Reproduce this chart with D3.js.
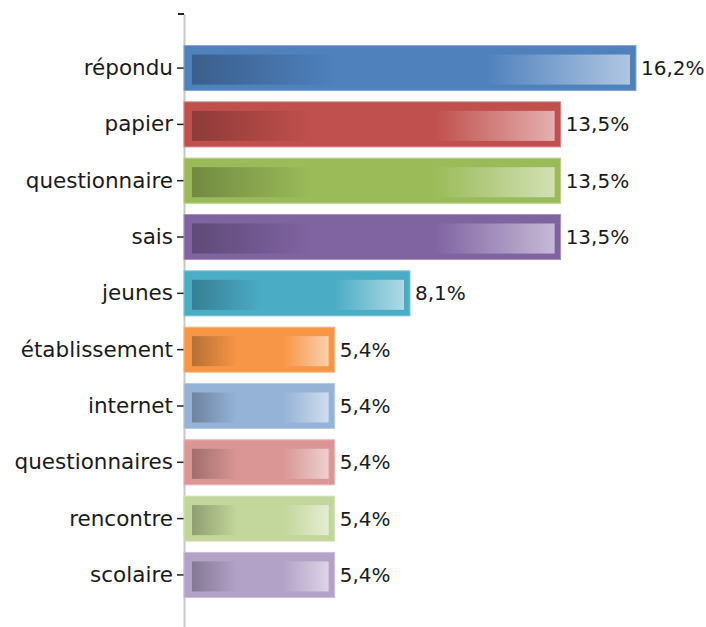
<!DOCTYPE html>
<html>
<head>
<meta charset="utf-8">
<script src="https://cdn.jsdelivr.net/npm/d3@7"></script>
<style>
  html, body { margin: 0; padding: 0; background: #fff; }
  svg { display: block; }
</style>
</head>
<body>
<svg id="chart" width="706" height="627"></svg>
<script>
const categories = ["répondu","papier","questionnaire","sais","jeunes","établissement","internet","questionnaires","rencontre","scolaire"];
const values = [16.2, 13.5, 13.5, 13.5, 8.1, 5.4, 5.4, 5.4, 5.4, 5.4];
const valueLabels = ["16,2%","13,5%","13,5%","13,5%","8,1%","5,4%","5,4%","5,4%","5,4%","5,4%"];
const colors = ["#4F81BD","#C0504D","#9BBB59","#8064A2","#4BACC6","#F79646","#95B3D7","#D99694","#C3D69B","#B3A2C7"];

const svg = d3.select("#chart");
const x0 = 184;
const x = d3.scaleLinear().domain([0, 18]).range([x0, x0 + 18 * 27.9]);
const y = d3.scaleBand().domain(categories).range([14, 629]).paddingInner(0.2).paddingOuter(0.56);

const data = categories.map((c, i) => ({ c, v: values[i], label: valueLabels[i], color: colors[i], i }));

const defs = svg.append("defs");
data.forEach(d => {
  const base = d3.color(d.color);
  const dark = base.darker(0.85);
  const light = d3.interpolateRgb(d.color, "#ffffff")(0.55);
  const g = defs.append("linearGradient").attr("id", "grad" + d.i)
    .attr("x1", "0%").attr("x2", "100%").attr("y1", "0%").attr("y2", "0%");
  g.append("stop").attr("offset", "0%").attr("stop-color", dark);
  g.append("stop").attr("offset", "33%").attr("stop-color", d.color);
  g.append("stop").attr("offset", "67%").attr("stop-color", d.color);
  g.append("stop").attr("offset", "100%").attr("stop-color", light);
});

// axis
const axis = d3.axisLeft(y).tickSize(7).tickPadding(4).tickSizeOuter(0);
const ag = svg.append("g").attr("transform", `translate(${x0},0)`).call(axis);
ag.select(".domain").attr("stroke", "#c8c8c8").attr("stroke-width", 2);
ag.selectAll(".tick line").attr("stroke", "#222").attr("stroke-width", 1.5);
ag.selectAll(".tick text").attr("fill", "#1a1a1a")
  .style("font-family", "'DejaVu Sans', sans-serif").style("font-size", "21.5px");
ag.append("line").attr("x1", -6).attr("x2", 0)
  .attr("y1", y.range()[0]).attr("y2", y.range()[0])
  .attr("stroke", "#222").attr("stroke-width", 2);

const bars = svg.append("g").selectAll("g").data(data).join("g");
bars.append("rect")
  .attr("x", x(0)).attr("y", d => y(d.c))
  .attr("width", d => x(d.v) - x(0)).attr("height", y.bandwidth())
  .attr("fill", d => d.color)
  .attr("stroke", d => d3.interpolateRgb(d.color, "#ffffff")(0.3))
  .attr("stroke-width", 1);
bars.append("rect")
  .attr("x", x(0) + 8).attr("y", d => y(d.c) + 9)
  .attr("width", d => x(d.v) - x(0) - 14).attr("height", y.bandwidth() - 15)
  .attr("fill", d => `url(#grad${d.i})`);

bars.append("text")
  .attr("x", d => x(d.v) + 5).attr("y", d => y(d.c) + y.bandwidth() / 2)
  .attr("dy", "0.35em")
  .attr("fill", "#1a1a1a")
  .style("font-family", "'DejaVu Sans', sans-serif").style("font-size", "20px")
  .text(d => d.label);
</script>
</body>
</html>
